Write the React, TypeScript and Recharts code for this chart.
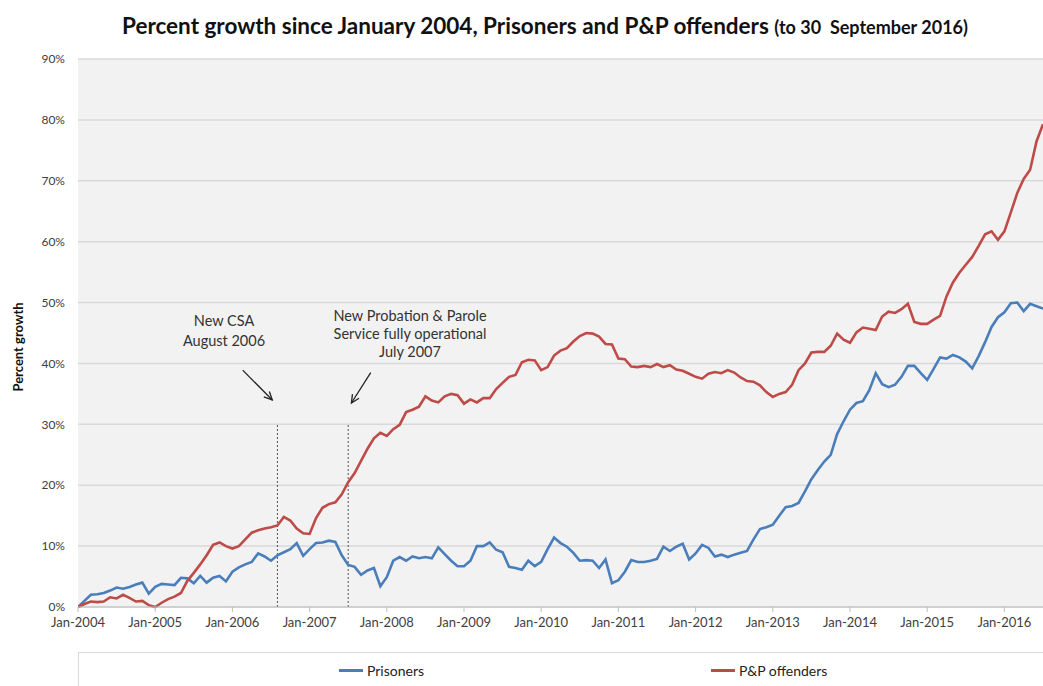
import { LineChart, Line, XAxis, YAxis, CartesianGrid, ReferenceLine } from "recharts"

// monthly % growth since Jan 2004, one row per year (chart is cropped after Jul 2016)
const prisoners = [
  0, 1.0, 2.0, 2.1, 2.3, 2.7, 3.2, 3.0, 3.3, 3.7, 4.0, 2.2,
  3.3, 3.8, 3.7, 3.6, 4.8, 4.7, 3.9, 5.1, 4.0, 4.8, 5.1, 4.2,
  5.8, 6.5, 7.0, 7.4, 8.8, 8.3, 7.6, 8.5, 9.0, 9.5, 10.5, 8.4,
  9.5, 10.5, 10.6, 10.9, 10.7, 8.5, 6.9, 6.6, 5.3, 6.0, 6.4, 3.4,
  4.9, 7.6, 8.2, 7.6, 8.3, 8.0, 8.2, 8.0, 9.8, 8.7, 7.6, 6.7,
  6.7, 7.6, 10.0, 10.0, 10.6, 9.4, 9.0, 6.6, 6.4, 6.1, 7.6, 6.7,
  7.4, 9.5, 11.4, 10.5, 9.9, 8.9, 7.6, 7.7, 7.6, 6.4, 7.8, 3.9,
  4.4, 5.8, 7.7, 7.4, 7.4, 7.6, 7.9, 9.9, 9.2, 9.9, 10.4, 7.8,
  8.8, 10.2, 9.7, 8.3, 8.6, 8.2, 8.6, 8.9, 9.2, 11.1, 12.8, 13.1,
  13.5, 15.0, 16.4, 16.6, 17.1, 19.0, 21.0, 22.5, 23.9, 25.0, 28.4, 30.5,
  32.4, 33.5, 33.8, 35.6, 38.4, 36.6, 36.1, 36.5, 37.8, 39.6, 39.6, 38.4,
  37.3, 39.1, 41.0, 40.8, 41.4, 41.0, 40.3, 39.2, 41.2, 43.5, 46.0, 47.6,
  48.4, 49.9, 50.0, 48.6, 49.8, 49.4, 49.0,
]

const ppOffenders = [
  0, 0.5, 0.9, 0.8, 0.9, 1.6, 1.4, 2.0, 1.5, 0.9, 1.0, 0.3,
  0, 0.7, 1.3, 1.7, 2.3, 4.3, 5.6, 7.0, 8.5, 10.2, 10.6, 10.0,
  9.6, 10.0, 11.1, 12.2, 12.6, 12.9, 13.1, 13.4, 14.8, 14.2, 12.9, 12.1,
  12.0, 14.6, 16.3, 16.9, 17.2, 18.5, 20.5, 22.0, 24.0, 26.0, 27.7, 28.6,
  28.1, 29.2, 29.9, 32.0, 32.4, 32.9, 34.6, 33.9, 33.6, 34.6, 35.0, 34.8,
  33.4, 34.1, 33.6, 34.3, 34.3, 35.8, 36.8, 37.8, 38.1, 40.2, 40.6, 40.5,
  38.9, 39.4, 41.3, 42.1, 42.5, 43.6, 44.5, 45.0, 44.9, 44.4, 43.2, 43.1,
  40.8, 40.7, 39.5, 39.4, 39.6, 39.4, 39.9, 39.4, 39.7, 39.0, 38.8, 38.3,
  37.8, 37.5, 38.3, 38.6, 38.4, 38.9, 38.5, 37.7, 37.1, 37.0, 36.4, 35.3,
  34.5, 35.0, 35.3, 36.5, 38.9, 40.0, 41.8, 41.9, 41.9, 42.9, 44.9, 43.9,
  43.4, 45.1, 45.9, 45.7, 45.5, 47.7, 48.5, 48.3, 48.9, 49.8, 46.8, 46.5,
  46.5, 47.2, 47.8, 51.0, 53.3, 54.9, 56.2, 57.5, 59.3, 61.2, 61.7, 60.3,
  61.7, 64.8, 68.0, 70.3, 71.8, 76.5, 79.3,
]

const yearLabels = [
  "Jan-2004", "Jan-2005", "Jan-2006", "Jan-2007", "Jan-2008", "Jan-2009", "Jan-2010",
  "Jan-2011", "Jan-2012", "Jan-2013", "Jan-2014", "Jan-2015", "Jan-2016",
]
const yTicks = [0, 10, 20, 30, 40, 50, 60, 70, 80, 90]

// month index of the two events
const csaMonth = 31 // Aug 2006
const ppsMonth = 42 // Jul 2007

const data = prisoners.map((p, i) => ({ m: i, prisoners: p, pp: ppOffenders[i] }))
const xTicks = yearLabels.map((_, i) => i * 12)

const BLUE = "#4a7ebb"
const RED = "#be4b48"
const FONT = "Lato, 'Open Sans', sans-serif"

function Arrow(props: any) {
  const { x1, y1, x2, y2 } = props
  const a = Math.atan2(y2 - y1, x2 - x1)
  const h = 9
  const p1 = [x2 - h * Math.cos(a - 0.45), y2 - h * Math.sin(a - 0.45)]
  const p2 = [x2 - h * Math.cos(a + 0.45), y2 - h * Math.sin(a + 0.45)]
  return (
    <g stroke="#222" strokeWidth={1.3} fill="none">
      <line x1={x1} y1={y1} x2={x2} y2={y2} />
      <polyline points={`${p1[0]},${p1[1]} ${x2},${y2} ${p2[0]},${p2[1]}`} />
    </g>
  )
}

const noteStyle: React.CSSProperties = {
  position: "absolute",
  fontSize: 14.5,
  lineHeight: "18px",
  color: "#333",
  textAlign: "center",
  whiteSpace: "nowrap",
}

export default function App() {
  return (
    <div
      style={{
        position: "absolute",
        left: 0,
        top: 0,
        width: 1043,
        height: 686,
        overflow: "hidden",
        background: "#fff",
        fontFamily: FONT,
      }}
    >
      <div
        style={{
          position: "absolute",
          top: 12,
          left: 0,
          width: 1090,
          textAlign: "center",
          fontWeight: 700,
          fontSize: 22.5,
          color: "#111",
          whiteSpace: "nowrap",
        }}
      >
        Percent growth since January 2004, Prisoners and P&amp;P offenders{" "}
        <span style={{ fontSize: 18 }}>(to 30&nbsp; September 2016)</span>
      </div>

      <div
        style={{
          position: "absolute",
          left: 18,
          top: 347,
          transform: "translate(-50%, -50%) rotate(-90deg)",
          fontSize: 13,
          fontWeight: 700,
          whiteSpace: "nowrap",
          color: "#111",
        }}
      >
        Percent growth
      </div>

      <LineChart
        width={1043}
        height={686}
        data={data}
        margin={{ top: 59, right: 0, left: 0, bottom: 49 }}
        style={{ position: "absolute", left: 0, top: 0 }}
      >
        <CartesianGrid vertical={false} stroke="#d9d9d9" strokeWidth={1.5} fill="#f2f2f2" />
        <XAxis
          dataKey="m"
          type="number"
          domain={[0, 150]}
          ticks={xTicks}
          allowDataOverflow
          height={30}
          tickFormatter={(v: number) => yearLabels[v / 12]}
          tick={{ fontSize: 13, fill: "#404040", fontFamily: FONT }}
          axisLine={{ stroke: "#bfbfbf" }}
          tickLine={{ stroke: "#bfbfbf" }}
          tickSize={5}
          tickMargin={6}
        />
        <YAxis
          domain={[0, 90]}
          ticks={yTicks}
          width={78}
          tickFormatter={(v: number) => `${v}%`}
          tick={{ fontSize: 12, fill: "#404040", fontFamily: FONT }}
          axisLine={false}
          tickLine={false}
          tickSize={0}
          tickMargin={13}
        />
        <ReferenceLine
          segment={[{ x: csaMonth, y: 0 }, { x: csaMonth, y: 30 }]}
          stroke="#555"
          strokeDasharray="2 2"
        />
        <ReferenceLine
          segment={[{ x: ppsMonth, y: 0 }, { x: ppsMonth, y: 30 }]}
          stroke="#555"
          strokeDasharray="2 2"
        />
        <ReferenceLine
          segment={[{ x: 25.6, y: 38.9 }, { x: 30.2, y: 34.0 }]}
          shape={Arrow}
        />
        <ReferenceLine
          segment={[{ x: 45.5, y: 38.5 }, { x: 42.5, y: 33.5 }]}
          shape={Arrow}
        />
        <Line
          type="linear"
          dataKey="prisoners"
          stroke={BLUE}
          strokeWidth={2.6}
          dot={false}
          isAnimationActive={false}
        />
        <Line
          type="linear"
          dataKey="pp"
          stroke={RED}
          strokeWidth={2.6}
          dot={false}
          isAnimationActive={false}
        />
      </LineChart>

      <div style={{ ...noteStyle, left: 224, top: 311, lineHeight: "20px", transform: "translateX(-50%)" }}>
        New CSA
        <br />
        August 2006
      </div>
      <div style={{ ...noteStyle, left: 410, top: 307, transform: "translateX(-50%)" }}>
        New Probation &amp; Parole
        <br />
        Service fully operational
        <br />
        July 2007
      </div>

      <div
        style={{
          position: "absolute",
          left: 78,
          top: 652,
          width: 1040,
          height: 60,
          border: "1px solid #d9d9d9",
          fontSize: 14,
          color: "#222",
        }}
      >
        <div style={{ position: "absolute", left: 260, top: 9, display: "flex", alignItems: "center" }}>
          <span style={{ width: 24, height: 3, background: BLUE, marginRight: 4 }} />
          Prisoners
        </div>
        <div style={{ position: "absolute", left: 632, top: 9, display: "flex", alignItems: "center" }}>
          <span style={{ width: 24, height: 3, background: RED, marginRight: 4 }} />
          P&amp;P offenders
        </div>
      </div>
    </div>
  )
}
